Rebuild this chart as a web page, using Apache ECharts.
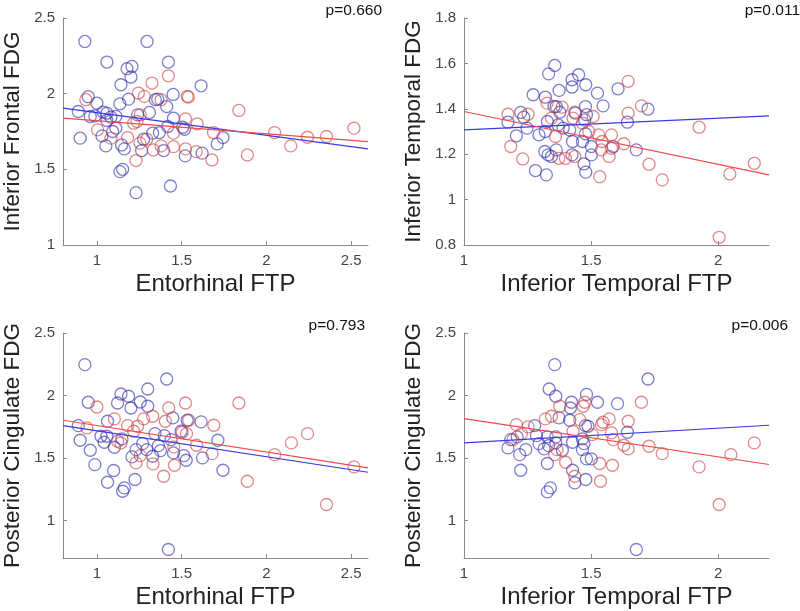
<!DOCTYPE html>
<html lang="en">
<head>
    <meta charset="UTF-8">
    <title>FDG vs FTP</title>
    <script src="https://cdn.jsdelivr.net/npm/echarts@6/dist/echarts.min.js"></script>
</head>
<body style="margin:0;background:#fff;">
<div id="box" style="width: 800px;height: 611px;"></div>
<script>
    // [FTP, FDG] pairs
    var p1Blue = [[0.929,2.345],[1.296,2.345],[1.059,2.209],[1.178,2.165],[1.207,2.18],[1.201,2.11],[1.422,2.209],
        [1.142,2.059],[1.615,2.052],[0.949,1.98],[0.89,1.882],[1.0,1.937],[0.901,1.706],[0.961,1.849],[0.988,1.853],
        [1.037,1.878],[1.059,1.871],[1.059,1.823],[1.083,1.845],[1.112,1.85],[1.136,1.933],[1.187,1.964],[1.24,1.86],
        [1.31,1.876],[1.345,1.96],[1.359,1.964],[1.412,1.915],[1.45,1.995],[1.452,1.838],[1.418,1.783],[1.507,1.778],
        [1.517,1.765],[1.03,1.721],[1.053,1.655],[1.093,1.75],[1.112,1.772],[1.146,1.661],[1.162,1.635],[1.136,1.485],
        [1.152,1.5],[1.231,1.346],[1.434,1.39],[1.276,1.699],[1.264,1.624],[1.329,1.739],[1.369,1.743],[1.394,1.624],
        [1.521,1.589],[1.621,1.607],[1.71,1.668],[1.744,1.71]];
    var p1Red = [[0.935,1.96],[1.004,1.761],[1.083,1.706],[1.181,1.71],[1.217,1.805],[1.237,1.816],[1.245,2.004],
        [1.28,1.982],[1.256,1.86],[1.325,2.07],[1.422,2.118],[1.379,1.96],[1.231,1.558],[1.254,1.673],[1.294,1.699],
        [1.333,1.628],[1.379,1.655],[1.452,1.65],[1.452,1.739],[1.523,1.834],[1.533,1.982],[1.54,1.978],[1.523,1.635],
        [1.592,1.801],[1.586,1.617],[1.688,1.743],[1.679,1.562],[1.838,1.889],[1.888,1.595],[2.049,1.743],
        [2.144,1.655],[2.243,1.712],[2.355,1.717],[2.517,1.772]];

    var p2Blue = [[1.357,1.591],[1.333,1.554],[1.451,1.55],[1.425,1.528],[1.425,1.496],[1.479,1.506],[1.374,1.481],
        [1.272,1.462],[1.32,1.451],[1.525,1.469],[1.606,1.488],[1.547,1.413],[1.354,1.41],[1.363,1.41],[1.377,1.385],
        [1.438,1.381],[1.478,1.41],[1.482,1.374],[1.475,1.351],[1.724,1.399],[1.643,1.341],[1.223,1.384],[1.235,1.363],
        [1.173,1.341],[1.206,1.281],[1.248,1.315],[1.295,1.285],[1.32,1.3],[1.328,1.344],[1.37,1.329],[1.39,1.315],
        [1.416,1.307],[1.427,1.256],[1.466,1.256],[1.478,1.29],[1.501,1.234],[1.501,1.197],[1.587,1.234],[1.678,1.219],
        [1.318,1.212],[1.331,1.197],[1.344,1.19],[1.363,1.219],[1.425,1.197],[1.472,1.157],[1.479,1.121],
        [1.281,1.128],[1.324,1.109]];
    var p2Red = [[1.173,1.376],[1.184,1.234],[1.231,1.179],[1.252,1.376],[1.327,1.425],[1.344,1.359],[1.36,1.278],
        [1.386,1.407],[1.373,1.182],[1.399,1.182],[1.436,1.385],[1.429,1.359],[1.436,1.19],[1.508,1.366],[1.466,1.337],
        [1.491,1.3],[1.53,1.285],[1.543,1.256],[1.54,1.219],[1.534,1.101],[1.58,1.285],[1.58,1.226],[1.571,1.19],
        [1.629,1.246],[1.646,1.381],[1.646,1.521],[1.698,1.413],[1.728,1.156],[1.78,1.087],[1.925,1.319],
        [2.046,1.113],[2.142,1.16],[2.004,0.834]];

    var p3Blue = [[0.929,2.247],[0.949,1.946],[0.89,1.759],[0.901,1.642],[0.961,1.562],[0.988,1.447],[1.063,1.306],
        [1.099,1.4],[1.024,1.674],[1.043,1.626],[1.059,1.674],[1.063,1.794],[1.103,1.586],[1.122,1.94],[1.142,2.012],
        [1.148,1.653],[1.152,1.234],[1.162,1.261],[1.187,1.994],[1.201,1.9],[1.207,1.509],[1.231,1.567],[1.225,1.328],
        [1.256,1.948],[1.3,1.914],[1.3,2.052],[1.27,1.615],[1.294,1.567],[1.329,1.514],[1.343,1.695],[1.363,1.599],
        [1.375,1.559],[1.398,1.679],[1.412,2.132],[1.448,1.821],[1.438,1.647],[1.452,1.541],[1.497,1.714],
        [1.513,1.519],[1.527,1.482],[1.533,1.802],[1.615,1.789],[1.623,1.501],[1.714,1.642],[1.744,1.402],[1.422,0.768]];
    var p3Red = [[0.941,1.741],[1.0,1.908],[1.103,1.813],[1.181,1.759],[1.122,1.634],[1.142,1.621],[1.217,1.714],
        [1.24,1.754],[1.231,1.461],[1.256,1.519],[1.276,1.813],[1.329,1.834],[1.331,1.453],[1.394,1.354],[1.404,1.794],
        [1.424,1.9],[1.454,1.589],[1.458,1.442],[1.503,1.706],[1.523,1.94],[1.529,1.695],[1.542,1.802],[1.588,1.602],
        [1.68,1.535],[1.69,1.762],[1.838,1.94],[1.888,1.314],[2.049,1.527],[2.148,1.621],[2.243,1.695],[2.355,1.128],
        [2.517,1.429]];

    var p4Blue = [[1.357,2.247],[1.335,2.052],[1.361,1.994],[1.482,2.009],[1.423,1.946],[1.419,1.9],[1.525,1.946],
        [1.604,1.935],[1.724,2.132],[1.374,1.821],[1.416,1.802],[1.478,1.759],[1.488,1.754],[1.643,1.706],[1.278,1.759],
        [1.285,1.679],[1.295,1.615],[1.315,1.573],[1.328,1.669],[1.333,1.599],[1.361,1.669],[1.361,1.621],[1.387,1.562],
        [1.427,1.626],[1.466,1.653],[1.472,1.615],[1.466,1.567],[1.482,1.493],[1.501,1.493],[1.184,1.647],[1.173,1.581],
        [1.209,1.669],[1.219,1.527],[1.243,1.567],[1.223,1.402],[1.328,1.456],[1.34,1.261],[1.328,1.229],[1.427,1.402],
        [1.436,1.301],[1.479,1.328],[1.678,0.768]];
    var p4Red = [[1.206,1.767],[1.193,1.647],[1.226,1.695],[1.252,1.749],[1.32,1.813],[1.344,1.834],[1.377,1.914],
        [1.357,1.527],[1.366,1.567],[1.4,1.466],[1.429,1.714],[1.436,1.354],[1.455,1.807],[1.469,1.914],[1.475,1.946],
        [1.505,1.687],[1.534,1.456],[1.537,1.314],[1.541,1.767],[1.547,1.786],[1.571,1.813],[1.58,1.701],[1.587,1.647],
        [1.584,1.442],[1.629,1.602],[1.646,1.794],[1.646,1.573],[1.698,1.946],[1.728,1.594],[1.78,1.535],[1.925,1.429],
        [2.004,1.128],[2.05,1.527],[2.142,1.621]];

    // fitted lines: y at the left and right end of each x axis
    var fitBlue = [[1.904,1.635],[1.307,1.369],[1.759,1.386],[1.621,1.762]];
    var fitRed = [[1.838,1.683],[1.388,1.109],[1.802,1.421],[1.815,1.448]];

    var xNames = ['Entorhinal FTP', 'Inferior Temporal FTP', 'Entorhinal FTP', 'Inferior Temporal FTP'];
    var yNames = ['Inferior Frontal FDG', 'Inferior Temporal FDG', 'Posterior Cingulate FDG', 'Posterior Cingulate FDG'];
    var pValues = ['p=0.660', 'p=0.011', 'p=0.793', 'p=0.006'];
    var xRanges = [[0.8, 2.6], [1, 2.2], [0.8, 2.6], [1, 2.2]];
    var yRanges = [[1, 2.5], [0.8, 1.8], [0.7, 2.5], [0.7, 2.5]];
    var xTicks = [[1, 1.5, 2, 2.5], [1, 1.5, 2], [1, 1.5, 2, 2.5], [1, 1.5, 2]];
    var yTicks = [[1, 1.5, 2, 2.5], [0.8, 1, 1.2, 1.4, 1.6, 1.8], [1, 1.5, 2, 2.5], [1, 1.5, 2, 2.5]];

    var blueSets = [p1Blue, p2Blue, p3Blue, p4Blue];
    var redSets = [p1Red, p2Red, p3Red, p4Red];

    var myChart = echarts.init(document.getElementById('box'));

    var gridPos = [
        {left: 62, top: 18, width: 306, height: 227},
        {left: 464, top: 18, width: 305, height: 227},
        {left: 62, top: 333, width: 306, height: 225},
        {left: 464, top: 333, width: 305, height: 225}
    ];
    var pPos = [[382, 3], [800, 3], [365, 318], [788, 318]];

    var grids = [], xAxes = [], yAxes = [], series = [], texts = [];
    var axisLine = {lineStyle: {color: '#8a8a8a', width: 1}};
    var xNameStyle = {color: '#222', fontSize: 24, fontFamily: 'Liberation Sans'};
    var yNameStyle = {color: '#222', fontSize: 22.5, fontFamily: 'Liberation Sans'};

    for (var i = 0; i < 4; i++) {
        grids.push(gridPos[i]);
        xAxes.push({
            type: 'value', gridIndex: i, min: xRanges[i][0], max: xRanges[i][1],
            name: xNames[i], nameLocation: 'middle', nameGap: 27, nameTextStyle: xNameStyle,
            axisLine: axisLine, splitLine: {show: false},
            axisTick: {inside: true, length: 4, customValues: xTicks[i], lineStyle: {color: '#8a8a8a'}},
            axisLabel: {customValues: xTicks[i], margin: 8, color: '#444', fontSize: 15, fontFamily: 'Liberation Sans'}
        });
        yAxes.push({
            type: 'value', gridIndex: i, min: yRanges[i][0], max: yRanges[i][1],
            name: yNames[i], nameLocation: 'middle', nameGap: 39, nameTextStyle: yNameStyle,
            axisLine: {show: true, lineStyle: {color: '#8a8a8a', width: 1}}, splitLine: {show: false},
            axisTick: {inside: true, length: 4, customValues: yTicks[i], lineStyle: {color: '#8a8a8a'}},
            axisLabel: {customValues: yTicks[i], margin: 8, color: '#444', fontSize: 15, fontFamily: 'Liberation Sans'}
        });
        series.push({
            type: 'scatter', xAxisIndex: i, yAxisIndex: i, data: blueSets[i],
            symbol: 'circle', symbolSize: 12, silent: true,
            itemStyle: {color: 'transparent', borderColor: 'rgba(40,40,170,0.75)', borderWidth: 1.3}
        });
        series.push({
            type: 'scatter', xAxisIndex: i, yAxisIndex: i, data: redSets[i],
            symbol: 'circle', symbolSize: 12, silent: true,
            itemStyle: {color: 'transparent', borderColor: 'rgba(205,60,60,0.75)', borderWidth: 1.3}
        });
        series.push({
            type: 'line', xAxisIndex: i, yAxisIndex: i, symbol: 'none', silent: true,
            data: [[xRanges[i][0], fitBlue[i][0]], [xRanges[i][1], fitBlue[i][1]]],
            lineStyle: {color: '#3a3ae0', width: 1.2}
        });
        series.push({
            type: 'line', xAxisIndex: i, yAxisIndex: i, symbol: 'none', silent: true,
            data: [[xRanges[i][0], fitRed[i][0]], [xRanges[i][1], fitRed[i][1]]],
            lineStyle: {color: '#ee4a4a', width: 1.2}
        });
        texts.push({
            type: 'text', right: 800 - pPos[i][0], top: pPos[i][1],
            style: {text: pValues[i], fill: '#111', fontSize: 15.5, fontFamily: 'Liberation Sans'}
        });
    }

    myChart.setOption({
        animation: false,
        backgroundColor: '#fff',
        grid: grids,
        xAxis: xAxes,
        yAxis: yAxes,
        series: series,
        graphic: texts
    });
</script>
</body>
</html>
